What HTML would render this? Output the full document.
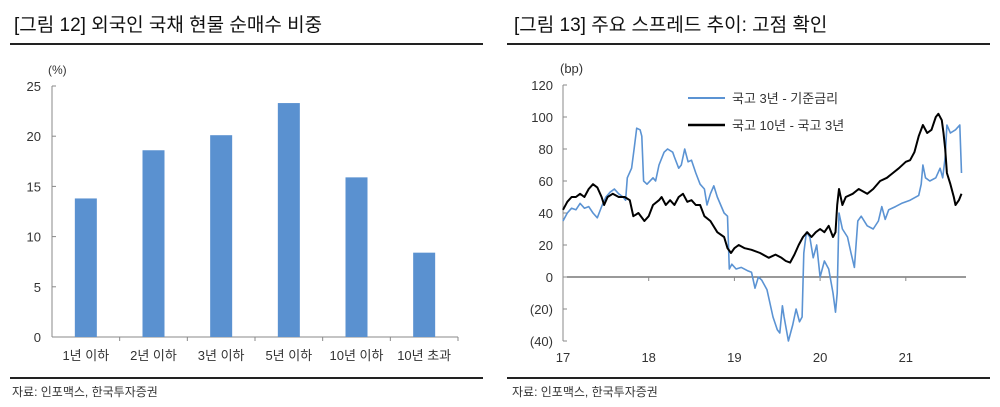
<!DOCTYPE html>
<html><head><meta charset="utf-8">
<style>
body{margin:0;width:1000px;height:407px;background:#fff;overflow:hidden;font-family:"Liberation Sans","Noto Sans CJK KR",sans-serif;}
svg{position:absolute;left:0;top:0}
</style></head>
<body>
<svg id="c" width="1000" height="407" xmlns="http://www.w3.org/2000/svg" font-family="'Liberation Sans','Noto Sans CJK KR',sans-serif">
<text x="14" y="31" font-size="19" fill="#111">[그림 12] 외국인 국채 현물 순매수 비중</text>
<line x1="10" y1="44" x2="483" y2="44" stroke="#222" stroke-width="2"/>
<text x="514" y="31" font-size="19" fill="#111">[그림 13] 주요 스프레드 추이: 고점 확인</text>
<line x1="507" y1="44" x2="990" y2="44" stroke="#222" stroke-width="2"/>
<line x1="10" y1="378" x2="483" y2="378" stroke="#222" stroke-width="2"/>
<line x1="507" y1="378" x2="990" y2="378" stroke="#222" stroke-width="2"/>
<text x="12" y="396" font-size="12" fill="#333">자료: 인포맥스, 한국투자증권</text>
<text x="512" y="396" font-size="12" fill="#333">자료: 인포맥스, 한국투자증권</text>
<g id="left"></g>
<g id="right"></g>
</svg>
<script>
const barCats=["1년 이하","2년 이하","3년 이하","5년 이하","10년 이하","10년 초과"];
const barVals=[13.8,18.6,20.1,23.3,15.9,8.4];
const barTicks=[0,5,10,15,20,25];

const yearTicks=[17,18,19,20,21];
const spreadTicks=[120,100,80,60,40,20,0,-20,-40];
const blueT=[17.00,17.05,17.10,17.15,17.20,17.25,17.30,17.35,17.40,17.45,17.50,17.55,17.60,17.65,17.70,17.73,17.75,17.80,17.83,17.86,17.90,17.92,17.94,17.98,18.05,18.08,18.12,18.18,18.22,18.28,18.30,18.35,18.38,18.42,18.46,18.50,18.55,18.60,18.65,18.68,18.72,18.76,18.80,18.84,18.88,18.92,18.94,18.97,19.02,19.08,19.15,19.20,19.24,19.28,19.32,19.38,19.45,19.50,19.53,19.56,19.58,19.63,19.68,19.72,19.76,19.79,19.81,19.84,19.88,19.92,19.96,20.00,20.05,20.10,20.15,20.18,20.20,20.22,20.26,20.32,20.36,20.40,20.44,20.48,20.55,20.62,20.68,20.72,20.76,20.80,20.88,20.95,21.05,21.15,21.18,21.20,21.23,21.28,21.35,21.40,21.43,21.46,21.48,21.52,21.58,21.63,21.65];
const blueV=[35,40,43,42,46,43,44,40,37,44,50,53,55,52,50,48,62,68,80,93,92,88,60,58,62,60,70,78,80,78,75,68,70,80,72,73,65,58,55,45,52,57,50,45,40,38,5,8,5,6,4,3,-7,0,-2,-8,-25,-33,-35,-18,-25,-40,-30,-20,-28,-25,15,28,25,12,20,0,10,5,-10,-22,-10,40,30,25,15,6,35,38,32,30,35,44,36,42,44,46,48,51,58,70,62,60,62,68,62,75,95,90,92,95,65];
const blackT=[17.00,17.05,17.10,17.15,17.20,17.25,17.30,17.35,17.40,17.45,17.48,17.52,17.58,17.65,17.72,17.78,17.82,17.88,17.95,18.00,18.05,18.12,18.15,18.20,18.25,18.30,18.35,18.40,18.45,18.50,18.55,18.60,18.65,18.72,18.80,18.88,18.92,18.96,19.00,19.05,19.12,19.20,19.30,19.40,19.48,19.55,19.60,19.65,19.70,19.75,19.80,19.85,19.90,19.95,20.00,20.05,20.10,20.15,20.18,20.20,20.22,20.26,20.30,20.38,20.45,20.55,20.62,20.70,20.78,20.85,20.92,21.00,21.05,21.10,21.15,21.20,21.25,21.30,21.35,21.38,21.42,21.44,21.46,21.48,21.52,21.56,21.58,21.62,21.65];
const blackV=[42,47,50,50,52,50,55,58,56,50,45,50,52,50,50,48,38,40,35,38,45,48,50,45,48,45,50,52,47,48,45,45,38,35,28,25,18,15,18,20,18,17,15,12,14,12,10,9,14,20,25,28,25,28,30,28,32,25,28,45,55,45,50,52,55,52,55,60,62,65,68,72,73,78,88,95,90,92,100,102,98,90,80,65,58,50,45,48,52];

const NS="http://www.w3.org/2000/svg";
function mk(parent,tag,attrs){const e=document.createElementNS(NS,tag);for(const k in attrs)e.setAttribute(k,attrs[k]);parent.appendChild(e);return e;}

const L=document.getElementById('left');
const lx0=52,lx1=458,ly0=337,ly1=86;
const ly=v=>ly0-(v/25)*(ly0-ly1);
const step=(lx1-lx0)/barCats.length;
let t=mk(L,'text',{x:48,y:74,'font-size':12,fill:'#333'});t.textContent='(%)';


let ax=mk(L,'line',{x1:lx0,y1:ly1,x2:lx0,y2:ly0,stroke:'#888'});


ax=mk(L,'line',{x1:lx0,y1:ly0,x2:lx1,y2:ly0,stroke:'#888'});


barTicks.forEach(v=>{
  const tk=mk(L,'line',{x1:lx0,y1:ly(v),x2:lx0+4,y2:ly(v),stroke:'#888'});
  
  
  const lb=mk(L,'text',{x:41,y:ly(v)+5,'font-size':13,fill:'#333','text-anchor':'end'});lb.textContent=v;
  
  
});
barCats.forEach((c,i)=>{
  const cx=lx0+step*(i+0.5);
  const b=mk(L,'rect',{x:cx-11,y:ly(barVals[i]),width:22,height:ly0-ly(barVals[i]),fill:'#5a91d0'});
  
  
  const tk=mk(L,'line',{x1:lx0+step*(i+1),y1:ly0,x2:lx0+step*(i+1),y2:ly0+4,stroke:'#888'});
  
  
  const lb=mk(L,'text',{x:cx,y:360,'font-size':13,fill:'#333','text-anchor':'middle'});lb.textContent=c;
  
  
});

const R=document.getElementById('right');
const rx0=563,rx1=966,ry=v=>277-v*1.6;
const rx=yr=>rx0+(yr-17)*85.7;
t=mk(R,'text',{x:560,y:73,'font-size':13,fill:'#333'});t.textContent='(bp)';


ax=mk(R,'line',{x1:rx0,y1:ry(120),x2:rx0,y2:ry(-40),stroke:'#888'});


ax=mk(R,'line',{x1:rx0,y1:ry(0),x2:rx1,y2:ry(0),stroke:'#333'});


spreadTicks.forEach(v=>{
  const tk=mk(R,'line',{x1:rx0,y1:ry(v),x2:rx0+4,y2:ry(v),stroke:'#888'});
  
  
  const lb=mk(R,'text',{x:553,y:ry(v)+5,'font-size':13,fill:'#333','text-anchor':'end'});lb.textContent=v<0?'('+(-v)+')':v;
  
  
});
yearTicks.forEach(y=>{
  const tk=mk(R,'line',{x1:rx(y),y1:ry(0),x2:rx(y),y2:ry(0)+4,stroke:'#888'});
  
  
  const lb=mk(R,'text',{x:rx(y),y:362,'font-size':13,fill:'#333','text-anchor':'middle'});lb.textContent=y;
  
  
});
function path(T,V){return T.map((x,i)=>(i?'L':'M')+rx(x).toFixed(1)+','+ry(V[i]).toFixed(1)).join(' ');}
let p=mk(R,'path',{d:path(blueT,blueV),fill:'none',stroke:'#5b93d3','stroke-width':1.6,'stroke-linejoin':'round'});


p=mk(R,'path',{d:path(blackT,blackV),fill:'none',stroke:'#000','stroke-width':2,'stroke-linejoin':'round'});


let lg=mk(R,'line',{x1:688,y1:98,x2:725,y2:98,stroke:'#5b93d3','stroke-width':2});


t=mk(R,'text',{x:732,y:103,'font-size':13,fill:'#333'});t.textContent='국고 3년 - 기준금리';


lg=mk(R,'line',{x1:688,y1:125,x2:725,y2:125,stroke:'#000','stroke-width':2.5});


t=mk(R,'text',{x:732,y:130,'font-size':13,fill:'#333'});t.textContent='국고 10년 - 국고 3년';


</script>
</body></html>
